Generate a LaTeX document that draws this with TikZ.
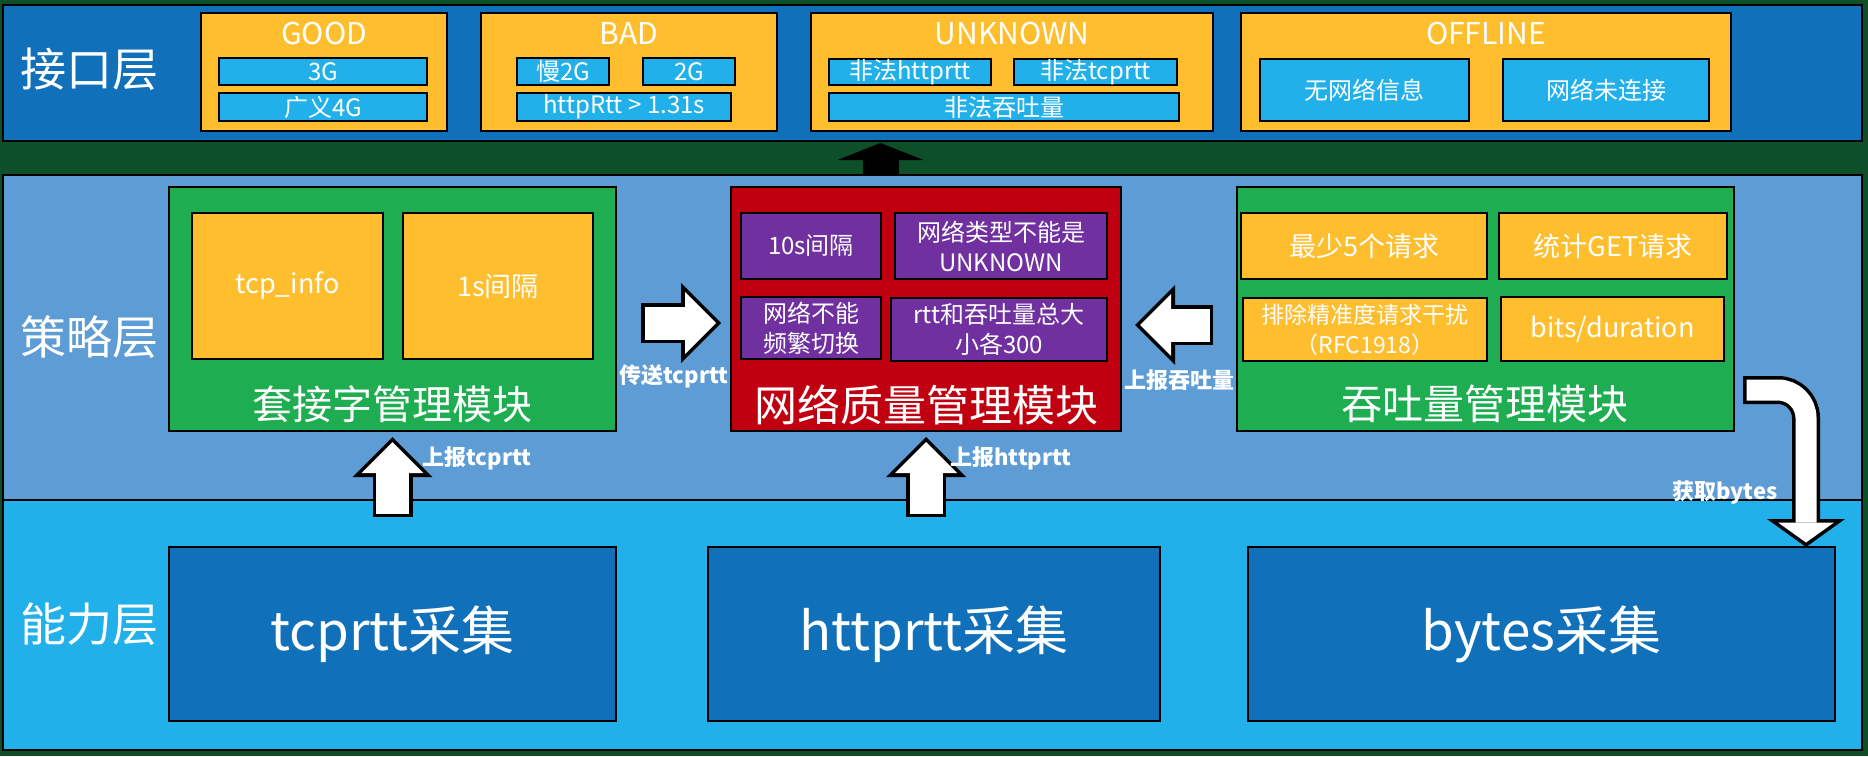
\documentclass[tikz,border=0pt]{standalone}
\usepackage{fontspec}
\newfontfamily\cjk{Noto Sans CJK SC}
\usetikzlibrary{arrows.meta}

\definecolor{bggreen}{RGB}{13,79,41}
\definecolor{topblue}{RGB}{16,112,186}
\definecolor{midblue}{RGB}{93,156,213}
\definecolor{cyanb}{RGB}{33,176,234}
\definecolor{yel}{RGB}{254,190,46}
\definecolor{grn}{RGB}{30,173,81}
\definecolor{redm}{RGB}{192,0,16}
\definecolor{purp}{RGB}{112,48,160}

\tikzset{
	fatout/.style={draw=black, line width=40pt, -{Triangle[length=40pt,width=80pt,line width=0pt]}},
	fatin/.style={draw=white, line width=33pt, -{Triangle[length=31pt,width=62pt,line width=0pt]}},
}

\begin{document}
\begin{tikzpicture}[x=1pt, y=-1pt,
	every node/.style={rectangle, draw, line width=2.5pt, inner sep=0pt, outer sep=0pt, text=white, align=center},
	box/.style={anchor=north west, fill=#1},
	lbl/.style={draw=none, font=\cjk\fontsize{#1}{#1}\selectfont},
	blbl/.style={draw=none, font=\cjk\bfseries\fontsize{#1}{#1}\selectfont},
]
\useasboundingbox (0,0) rectangle (1868,756);
\fill[bggreen] (0,0) rectangle (1868,756);

% layers
\foreach \x/\y/\w/\h/\col/\n in {
	3/5/1859/136/topblue/iface%
	,3/175/1859/325/midblue/strat%
	,3/500/1859/250/cyanb/capab%
}{
	\node[box=\col, minimum width=\w*1pt, minimum height=\h*1pt](\n) at(\x,\y) {};
}
\foreach \y/\n/\t in {69/liface/接口层,337/lstrat/策略层,624/lcapab/能力层}{
	\node[lbl=46](\n) at(89,\y) {\t};
}

% interface layer
\foreach \x/\w/\n/\t in {
	201/246/good/GOOD,481/296/bad/BAD%
	,811/402/unk/UNKNOWN,1241/490/off/OFFLINE%
}{
	\node[box=yel, minimum width=\w*1pt, minimum height=118pt](\n) at(\x,13) {};
	\node[lbl=30](\n t) at({\x+\w/2},34) {\t};
}
\foreach \x/\y/\w/\h/\n/\t in {
	219/58/208/27/gg/3G,219/93/208/28/gw/广义4G%
	,517/58/92/27/bs/慢2G,643/58/92/27/bt/2G,517/93/214/28/bh/httpRtt > 1.31s%
	,829/59/162/26/uh/非法httprtt,1014/59/163/26/ut/非法tcprtt,829/93/350/28/uq/非法吞吐量%
	,1260/59/209/62/on/无网络信息,1503/59/206/62/oc/网络未连接%
}{
	\node[box=cyanb, minimum width=\w*1pt, minimum height=\h*1pt, font=\cjk\fontsize{24}{24}\selectfont](\n) at(\x,\y) {\t};
}

% strategy layer
\foreach \x/\w/\col/\n in {169/447/grn/sock,731/390/redm/netq,1237/497/grn/thr}{
	\node[box=\col, minimum width=\w*1pt, minimum height=244pt](\n) at(\x,187) {};
}
\node[lbl=40](sockt) at(392,404) {套接字管理模块};
\node[lbl=43](netqt) at(926,405) {网络质量管理模块};
\node[lbl=41](thrt) at(1485,404) {吞吐量管理模块};

\foreach \x/\y/\w/\h/\col/\s/\ls/\n/\t in {
	192/213/191/146/yel/27/33/tinfo/tcp\_info,403/213/190/146/yel/27/33/tsec/1s间隔%
	,741/213/140/66/purp/24/30/qa/10s间隔,895/213/212/66/purp/24/30/qb/{网络类型不能是\\UNKNOWN}%
	,741/297/140/62/purp/24/30/qc/{网络不能\\频繁切换},891/298/216/63/purp/24/30/qd/{rtt和吞吐量总大\\小各300}%
	,1241/213/246/66/yel/27/33/ta/最少5个请求,1499/213/228/66/yel/27/33/tb/统计GET请求%
	,1243/298/244/63/yel/23/30/tc/{排除精准度请求干扰\\（RFC1918）},1501/297/223/64/yel/27/33/td/{bits/duration}%
}{
	\node[box=\col, minimum width=\w*1pt, minimum height=\h*1pt, font=\cjk\fontsize{\s}{\ls}\selectfont](\n) at(\x,\y) {\t};
}

% capability layer
\foreach \x/\w/\n/\t in {169/447/tcpc/tcprtt采集,708/452/httpc/httprtt采集,1248/587/bytec/bytes采集}{
	\node[box=topblue, minimum width=\w*1pt, minimum height=174pt, font=\cjk\fontsize{53}{53}\selectfont](\n) at(\x,547) {\t};
}

% arrows
\draw[draw=black, line width=36pt, -{Triangle[length=17pt,width=86pt,line width=0pt]}, shorten >=2pt] ([xshift=-52pt]strat.north) -- ([xshift=-52pt]iface.south);

\draw[fatout, shorten <=25pt, shorten >=10pt] ([yshift=-14pt]sock.east) -- ([yshift=-14pt]netq.west);
\draw[fatin, shorten <=28.5pt, shorten >=15pt] ([yshift=-14pt]sock.east) -- ([yshift=-14pt]netq.west);

\draw[fatout, shorten <=24pt, shorten >=14pt] ([yshift=-16pt]thr.west) -- ([yshift=-16pt]netq.east);
\draw[fatin, shorten <=27.5pt, shorten >=19pt] ([yshift=-16pt]thr.west) -- ([yshift=-16pt]netq.east);

\draw[fatout, shorten <=30pt, shorten >=6pt] (tcpc.north) -- (sock.south);
\draw[fatin, shorten <=33.5pt, shorten >=11pt] (tcpc.north) -- (sock.south);

\draw[fatout, shorten <=30pt, shorten >=6pt] (netq.south |- httpc.north) -- (netq.south);
\draw[fatin, shorten <=33.5pt, shorten >=11pt] (netq.south |- httpc.north) -- (netq.south);

\draw[draw=black, line width=28pt, rounded corners=28pt, -{Triangle[length=28pt,width=78pt,line width=0pt]}, shorten <=9pt] ([yshift=41pt]thr.south east) -| ([xshift=-29pt]bytec.north east);
\draw[draw=white, line width=21pt, rounded corners=28pt, -{Triangle[length=20pt,width=56pt,line width=0pt]}, shorten <=12.5pt, shorten >=4.5pt] ([yshift=41pt]thr.south east) -| ([xshift=-29pt]bytec.north east);

\foreach \x/\y/\n/\t in {
	674/376/lsend/传送tcprtt,1179/380/lthr/上报吞吐量%
	,477/458/ltcp/上报tcprtt,1011/458/lhttp/上报httprtt%
	,1725/492/lbytes/获取bytes%
}{
	\node[blbl=22](\n) at(\x,\y) {\t};
}
\end{tikzpicture}
\end{document}
